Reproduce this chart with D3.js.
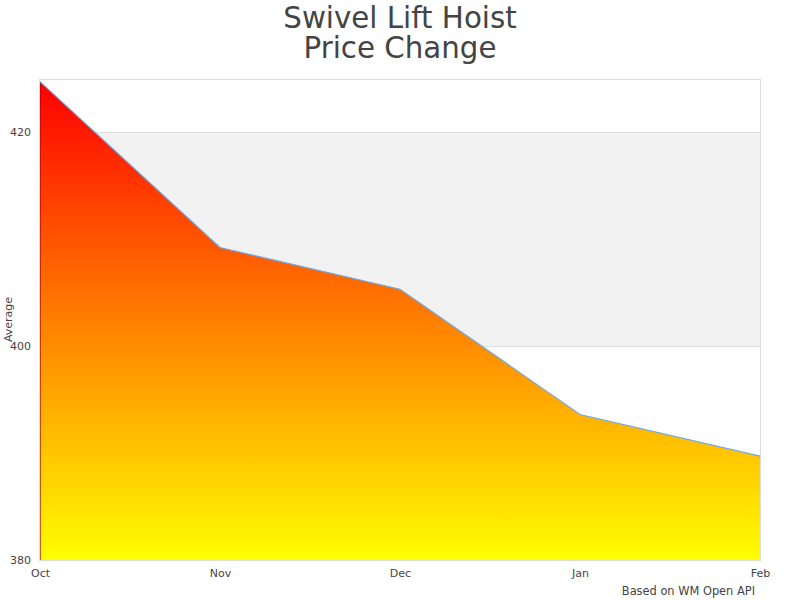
<!DOCTYPE html>
<html>
<head>
<meta charset="utf-8">
<script src="https://cdn.jsdelivr.net/npm/d3@7"></script>
<style>
  body { margin: 0; background: #fff; }
  text { font-family: "DejaVu Sans", sans-serif; }
</style>
</head>
<body>
<svg id="chart"></svg>
<script>
// data
var months = ["Oct", "Nov", "Dec", "Jan", "Feb"]
var averages = [424.7, 409.2, 405.3, 393.6, 389.7]
var yTicks = [380, 400, 420]
var bandRange = [400, 420]

var titleLines = ["Swivel Lift Hoist", "Price Change"]
var creditText = "Based on WM Open API"

//svg dimensions
var dimensions = {
    width: 800,
    height: 600,
    margin: { top: 79, bottom: 40, left: 40, right: 40 }
}

var svg = d3.select("#chart")
            .attr("width", dimensions.width)
            .attr("height", dimensions.height)

var plotW = dimensions.width - dimensions.margin.left - dimensions.margin.right
var plotH = dimensions.height - dimensions.margin.top - dimensions.margin.bottom

//scales
var x = d3.scalePoint()
          .domain(months)
          .range([dimensions.margin.left, dimensions.margin.left + plotW])
var y = d3.scaleLinear()
          .domain([380, 424.95])
          .range([dimensions.margin.top + plotH, dimensions.margin.top])

//gradient for the area
var defs = svg.append("defs")
var grad = defs.append("linearGradient")
               .attr("id", "areaGrad")
               .attr("x1", 0).attr("y1", 0)
               .attr("x2", 0).attr("y2", 1)
grad.append("stop").attr("offset", "0%").attr("stop-color", "#ff0000")
grad.append("stop").attr("offset", "100%").attr("stop-color", "#ffff00")

//plot band
svg.append("rect")
   .attr("x", x.range()[0])
   .attr("width", plotW)
   .attr("y", y(bandRange[1]))
   .attr("height", y(bandRange[0]) - y(bandRange[1]))
   .attr("fill", "#f2f2f2")

//grid lines
svg.append("g")
   .selectAll("line")
   .data(yTicks)
   .enter()
   .append("line")
   .attr("x1", x.range()[0])
   .attr("x2", x.range()[1])
   .attr("y1", d => Math.round(y(d)) + 0.5)
   .attr("y2", d => Math.round(y(d)) + 0.5)
   .attr("stroke", "#dddddd")

//plot frame
svg.append("rect")
   .attr("x", x.range()[0] - 0.5)
   .attr("y", dimensions.margin.top + 0.5)
   .attr("width", plotW + 1)
   .attr("height", plotH)
   .attr("fill", "none")
   .attr("stroke", "#dddddd")

var points = months.map((m, i) => ({ month: m, value: averages[i] }))

//area
var area = d3.area()
             .x(d => x(d.month))
             .y0(y(380))
             .y1(d => y(d.value))
svg.append("path")
   .datum(points)
   .attr("d", area)
   .attr("fill", "url(#areaGrad)")

//left edge of the area
svg.append("line")
   .attr("x1", x(months[0]) + 0.5)
   .attr("x2", x(months[0]) + 0.5)
   .attr("y1", y(averages[0]))
   .attr("y2", y(380))
   .attr("stroke", "#b00000")
   .attr("stroke-opacity", 0.6)

//line
var line = d3.line()
             .x(d => x(d.month))
             .y(d => y(d.value))
svg.append("path")
   .datum(points)
   .attr("d", line)
   .attr("fill", "none")
   .attr("stroke", "#6fa8e8")
   .attr("stroke-width", 1.2)

//y axis labels
var yAxis = d3.axisLeft(y).tickValues(yTicks).tickSize(0).tickPadding(9)
var yg = svg.append("g")
            .attr("transform", "translate(" + x.range()[0] + ",0)")
            .call(yAxis)
yg.select(".domain").remove()
yg.selectAll("text").attr("font-size", 11).attr("fill", "#444")
   .attr("font-family", "DejaVu Sans, sans-serif")

//x axis labels
var xAxis = d3.axisBottom(x).tickSize(0).tickPadding(9)
var xg = svg.append("g")
            .attr("transform", "translate(0," + (dimensions.margin.top + plotH) + ")")
            .call(xAxis)
xg.select(".domain").remove()
xg.selectAll("text").attr("font-size", 11).attr("fill", "#444")
   .attr("font-family", "DejaVu Sans, sans-serif")

//axis title
svg.append("text")
   .attr("transform", "translate(12," + (dimensions.margin.top + plotH / 2) + ") rotate(-90)")
   .attr("text-anchor", "middle")
   .attr("font-size", 11)
   .attr("fill", "#444")
   .text("Average")

//title, one text element with a tspan per line
var title = svg.append("text")
               .attr("text-anchor", "middle")
               .attr("font-size", 29.3)
               .attr("fill", "#444")
title.selectAll("tspan")
     .data(titleLines)
     .enter()
     .append("tspan")
     .attr("x", dimensions.width / 2)
     .attr("y", (d, i) => 28 + i * 30)
     .text(d => d)

//credit
svg.append("text")
   .attr("x", 755)
   .attr("y", 595)
   .attr("text-anchor", "end")
   .attr("font-size", 11.4)
   .attr("fill", "#444")
   .text(creditText)
</script>
</body>
</html>
